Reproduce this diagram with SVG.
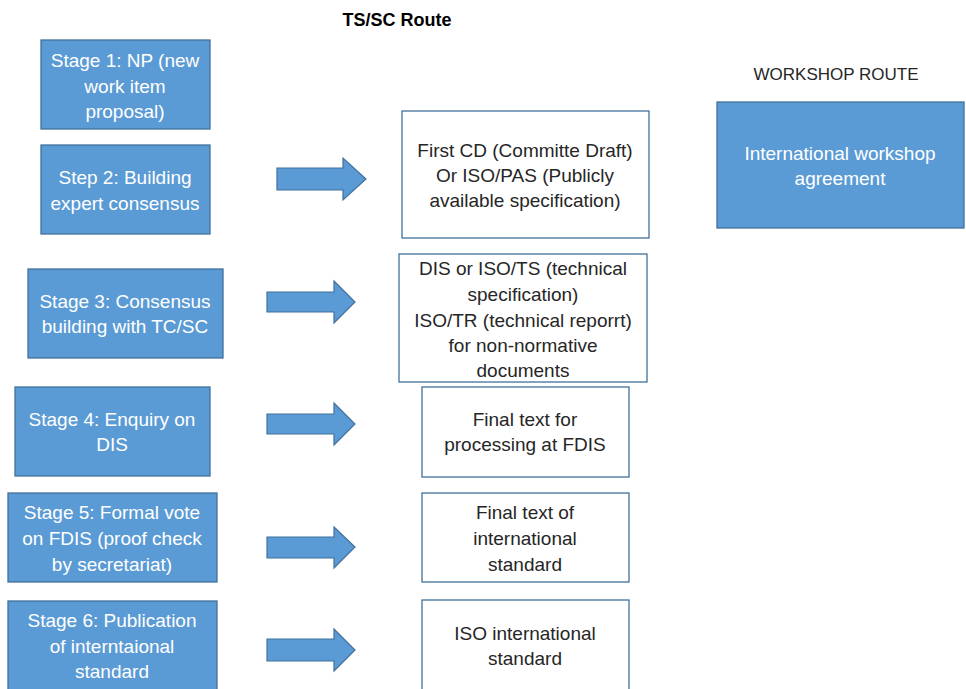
<svg xmlns="http://www.w3.org/2000/svg" width="966" height="689" viewBox="0 0 966 689">
<style>
.blue{fill:#5B9BD5;stroke:#41719C;stroke-width:1.3}
.out{fill:#FFFFFF;stroke:#41719C;stroke-width:1.3}
.arr{fill:#5B9BD5;stroke:#41719C;stroke-width:1.2}
text{font-family:"Liberation Sans","Open Sans",Arial,sans-serif;font-size:19px;text-anchor:middle}
.w{fill:#FFFFFF}
.d{fill:#262626}
.h{fill:#000000;font-size:18px}
</style>
<rect width="966" height="689" fill="#FFFFFF"/>
<text class="h" x="397" y="26" font-weight="bold">TS/SC Route</text>
<text class="d" x="836" y="80" style="font-size:17px">WORKSHOP ROUTE</text>

<g id="stage1"><rect class="blue" x="41" y="40" width="169" height="89"/>
<text class="w" x="125" y="67">Stage 1: NP (new</text><text class="w" x="125" y="93">work item</text><text class="w" x="125" y="118">proposal)</text></g>

<g id="step2"><rect class="blue" x="41" y="145" width="169" height="89"/>
<text class="w" x="125" y="184">Step 2: Building</text><text class="w" x="125" y="210">expert consensus</text></g>

<g id="firstcd"><rect class="out" x="402" y="111" width="247" height="127"/>
<text class="d" x="525" y="157">First CD (Committe Draft)</text><text class="d" x="525" y="182">Or ISO/PAS (Publicly</text><text class="d" x="525" y="207">available specification)</text></g>

<g id="workshop"><rect class="blue" x="717" y="102" width="247" height="126"/>
<text class="w" x="840" y="160">International workshop</text><text class="w" x="840" y="185">agreement</text></g>

<g id="stage3"><rect class="blue" x="28" y="269" width="195" height="89"/>
<text class="w" x="125" y="308">Stage 3: Consensus</text><text class="w" x="125" y="333">building with TC/SC</text></g>

<g id="dis"><rect class="out" x="399" y="254" width="248" height="128"/>
<text class="d" x="523" y="275">DIS or ISO/TS (technical</text><text class="d" x="523" y="301">specification)</text><text class="d" x="523" y="327">ISO/TR (technical reporrt)</text><text class="d" x="523" y="352">for non-normative</text><text class="d" x="523" y="377">documents</text></g>

<g id="stage4"><rect class="blue" x="15" y="387" width="195" height="89"/>
<text class="w" x="112" y="426">Stage 4: Enquiry on</text><text class="w" x="112" y="451">DIS</text></g>

<g id="fdis"><rect class="out" x="422" y="387" width="207" height="90"/>
<text class="d" x="525" y="426">Final text for</text><text class="d" x="525" y="451">processing at FDIS</text></g>

<g id="stage5"><rect class="blue" x="8" y="493" width="209" height="89"/>
<text class="w" x="112" y="519">Stage 5: Formal vote</text><text class="w" x="112" y="545">on FDIS (proof check</text><text class="w" x="112" y="571">by secretariat)</text></g>

<g id="finaltext"><rect class="out" x="422" y="493" width="207" height="89"/>
<text class="d" x="525" y="519">Final text of</text><text class="d" x="525" y="545">international</text><text class="d" x="525" y="571">standard</text></g>

<g id="stage6"><rect class="blue" x="8" y="601" width="209" height="100"/>
<text class="w" x="112" y="627">Stage 6: Publication</text><text class="w" x="112" y="653">of interntaional</text><text class="w" x="112" y="678">standard</text></g>

<g id="isostd"><rect class="out" x="422" y="600" width="207" height="100"/>
<text class="d" x="525" y="640">ISO international</text><text class="d" x="525" y="665">standard</text></g>

<g id="connectors">
<path class="arr" d="M277,168 H343 V158 L366,179 L343,200 V190 H277 Z"/>
<path class="arr" d="M267,292 H334 V281 L355,302 L334,323 V312 H267 Z"/>
<path class="arr" d="M267,414 H334 V403 L355,424 L334,445 V434 H267 Z"/>
<path class="arr" d="M267,537 H334 V527 L355,547 L334,568 V558 H267 Z"/>
<path class="arr" d="M267,639 H334 V629 L355,650 L334,671 V661 H267 Z"/>
</g>
</svg>
